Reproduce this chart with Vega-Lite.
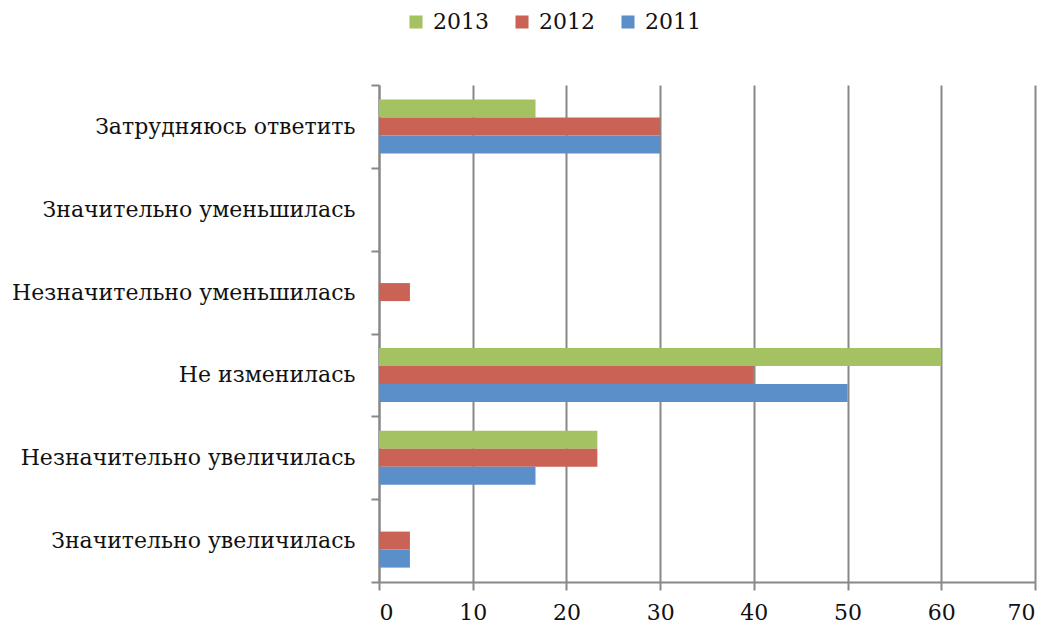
{
  "$schema": "https://vega.github.io/schema/vega-lite/v6.json",
  "width": 656,
  "height": 497,
  "autosize": {"type": "none"},
  "padding": {"left": 379, "top": 85, "right": 19, "bottom": 44},
  "background": "white",
  "config": {
    "view": {"stroke": null},
    "font": "DejaVu Serif"
  },
  "data": {
    "values": [
      {"cat": "Затрудняюсь ответить", "year": "2013", "v": 16.7},
      {"cat": "Затрудняюсь ответить", "year": "2012", "v": 30},
      {"cat": "Затрудняюсь ответить", "year": "2011", "v": 30},
      {"cat": "Значительно уменьшилась", "year": "2013", "v": 0},
      {"cat": "Значительно уменьшилась", "year": "2012", "v": 0},
      {"cat": "Значительно уменьшилась", "year": "2011", "v": 0},
      {"cat": "Незначительно уменьшилась", "year": "2013", "v": 0},
      {"cat": "Незначительно уменьшилась", "year": "2012", "v": 3.3},
      {"cat": "Незначительно уменьшилась", "year": "2011", "v": 0},
      {"cat": "Не изменилась", "year": "2013", "v": 60},
      {"cat": "Не изменилась", "year": "2012", "v": 40},
      {"cat": "Не изменилась", "year": "2011", "v": 50},
      {"cat": "Незначительно увеличилась", "year": "2013", "v": 23.3},
      {"cat": "Незначительно увеличилась", "year": "2012", "v": 23.3},
      {"cat": "Незначительно увеличилась", "year": "2011", "v": 16.7},
      {"cat": "Значительно увеличилась", "year": "2013", "v": 0},
      {"cat": "Значительно увеличилась", "year": "2012", "v": 3.3},
      {"cat": "Значительно увеличилась", "year": "2011", "v": 3.3}
    ]
  },
  "mark": {"type": "bar"},
  "encoding": {
    "y": {
      "field": "cat",
      "type": "nominal",
      "sort": ["Затрудняюсь ответить", "Значительно уменьшилась", "Незначительно уменьшилась", "Не изменилась", "Незначительно увеличилась", "Значительно увеличилась"],
      "scale": {"paddingInner": 0, "paddingOuter": 0},
      "axis": {
        "title": null,
        "domainColor": "#888888",
        "domainWidth": 2,
        "tickColor": "#888888",
        "tickWidth": 2,
        "tickSize": 8,
        "tickBand": "extent",
        "labelFontSize": 22,
        "labelColor": "#111111",
        "labelPadding": 16,
        "labelFont": "DejaVu Serif",
        "labelLimit": 400
      }
    },
    "yOffset": {
      "field": "year",
      "type": "nominal",
      "sort": ["2013", "2012", "2011"],
      "scale": {"paddingInner": 0, "paddingOuter": 0.8}
    },
    "x": {
      "field": "v",
      "type": "quantitative",
      "scale": {"domain": [0, 70]},
      "axis": {
        "title": null,
        "values": [0, 10, 20, 30, 40, 50, 60, 70],
        "grid": true,
        "gridColor": "#888888",
        "gridWidth": 2,
        "domainColor": "#888888",
        "domainWidth": 2,
        "tickColor": "#888888",
        "tickWidth": 2,
        "tickSize": 8,
        "labelFontSize": 22,
        "labelColor": "#111111",
        "labelPadding": 12,
        "labelFont": "DejaVu Serif"
      }
    },
    "color": {
      "field": "year",
      "type": "nominal",
      "scale": {"domain": ["2013", "2012", "2011"], "range": ["#A5C262", "#CA6356", "#5A8FC9"]},
      "legend": {
        "title": null,
        "orient": "none",
        "direction": "horizontal",
        "legendX": 26,
        "legendY": -74,
        "symbolType": "square",
        "symbolSize": 170,
        "symbolStrokeWidth": 0,
        "labelFontSize": 22,
        "labelColor": "#111111",
        "labelFont": "DejaVu Serif",
        "columnPadding": 22,
        "labelOffset": 6
      }
    }
  }
}
